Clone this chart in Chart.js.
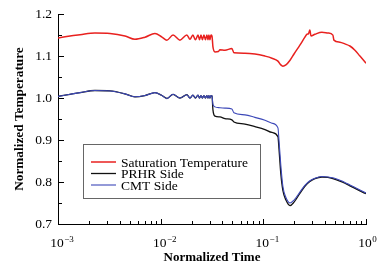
<!DOCTYPE html>
<html>
<head>
<meta charset="utf-8">
<script src="https://cdn.jsdelivr.net/npm/chart.js@4/dist/chart.umd.min.js"></script>
<style>
  html, body { margin: 0; padding: 0; background: #fff; }
  canvas { display: block; }
</style>
</head>
<body>
<canvas id="temp-chart" width="390" height="269"></canvas>
<script>
// values
const satTime = [0.001, 0.00131, 0.00164, 0.00229, 0.00321, 0.00449, 0.00562, 0.00703, 0.0088, 0.0103,
  0.0115, 0.0132, 0.0154, 0.018, 0.0193, 0.0206, 0.0218, 0.0231, 0.0239, 0.0247,
  0.0255, 0.0264, 0.0273, 0.0282, 0.0289, 0.0295, 0.0302, 0.0309, 0.0316, 0.0323,
  0.0338, 0.0365, 0.0378, 0.0423, 0.0494, 0.0517, 0.0662, 0.0828, 0.1037, 0.1213,
  0.1388, 0.148, 0.155, 0.166, 0.182, 0.199, 0.227, 0.254, 0.266, 0.275,
  0.284, 0.291, 0.318, 0.372, 0.426, 0.476, 0.487, 0.557, 0.623, 0.697,
  0.78, 0.873, 1.0];
const satTemp = [1.143, 1.148, 1.151, 1.155, 1.154, 1.148, 1.140, 1.145, 1.154, 1.145,
  1.138, 1.150, 1.138, 1.150, 1.140, 1.150, 1.139, 1.150, 1.139, 1.150,
  1.139, 1.150, 1.139, 1.150, 1.139, 1.150, 1.139, 1.150, 1.148, 1.122,
  1.110, 1.111, 1.115, 1.114, 1.118, 1.108, 1.107, 1.105, 1.100, 1.095,
  1.088, 1.079, 1.076, 1.079, 1.090, 1.105, 1.126, 1.145, 1.152, 1.153,
  1.162, 1.148, 1.152, 1.157, 1.155, 1.150, 1.138, 1.133, 1.129, 1.124,
  1.114, 1.100, 1.083];

const sideTime = [0.001, 0.00131, 0.00164, 0.00229, 0.00321, 0.00449, 0.00562, 0.00703, 0.0088, 0.0103,
  0.0115, 0.0132, 0.0154, 0.018, 0.0193, 0.0206, 0.0218, 0.0231, 0.0239, 0.0247,
  0.0255, 0.0264, 0.0273, 0.0282, 0.0289, 0.0295, 0.0302, 0.0309, 0.0316, 0.0323,
  0.0338, 0.0378, 0.0423, 0.0494, 0.0517, 0.0662, 0.0828, 0.1037, 0.1213, 0.1388,
  0.142, 0.148, 0.155, 0.166, 0.182, 0.199, 0.227, 0.254, 0.284, 0.318,
  0.372, 0.426, 0.476, 0.557, 0.623, 0.697, 0.78, 0.873, 1.0];
const prhrTemp = [1.004, 1.009, 1.013, 1.018, 1.017, 1.010, 1.003, 1.006, 1.013, 1.006,
  0.999, 1.009, 1.000, 1.008, 1.000, 1.007, 1.000, 1.007, 1.000, 1.006,
  1.000, 1.006, 1.000, 1.006, 1.000, 1.006, 1.000, 1.006, 1.005, 0.972,
  0.957, 0.955, 0.951, 0.948, 0.943, 0.938, 0.932, 0.925, 0.918, 0.908,
  0.88, 0.82, 0.78, 0.757, 0.744, 0.752, 0.773, 0.790, 0.801, 0.808,
  0.812, 0.811, 0.808, 0.802, 0.797, 0.791, 0.785, 0.779, 0.772];
const cmtTemp = [1.004, 1.009, 1.013, 1.018, 1.017, 1.010, 1.003, 1.006, 1.013, 1.006,
  0.999, 1.009, 1.000, 1.008, 1.000, 1.007, 1.000, 1.007, 1.000, 1.006,
  1.000, 1.006, 1.000, 1.006, 1.000, 1.006, 1.000, 1.006, 1.005, 0.985,
  0.979, 0.977, 0.976, 0.974, 0.965, 0.960, 0.954, 0.947, 0.940, 0.929,
  0.90, 0.84, 0.79, 0.763, 0.750, 0.757, 0.776, 0.792, 0.803, 0.809,
  0.813, 0.812, 0.810, 0.804, 0.799, 0.793, 0.787, 0.781, 0.774];

const seriesNames = ['Saturation Temperature', 'PRHR Side', 'CMT Side'];
const xTickValues = [0.001, 0.01, 0.1, 1];
const xTickExponents = ['\u22123', '\u22122', '\u22121', '0'];
const yTickValues = [0.7, 0.8, 0.9, 1.0, 1.1, 1.2];

const SERIF = '"Liberation Serif", "Times New Roman", serif';

function pairs(xs, ys) {
    return xs.map((x, i) => ({x: x, y: ys[i]}));
}

// inward ticks, x labels with superscripts, boxed legend
const decorPlugin = {
    id: 'decor',
    afterDraw(chart) {
        const ctx = chart.ctx;
        const xs = chart.scales.x;
        const ys = chart.scales.y;
        const area = chart.chartArea;
        ctx.save();
        ctx.strokeStyle = '#000';
        ctx.lineWidth = 1;

        // x ticks
        ctx.beginPath();
        for (let d = -3; d <= 0; d++) {
            const base = Math.pow(10, d);
            const px = Math.round(xs.getPixelForValue(base)) + 0.5;
            ctx.moveTo(px, area.bottom);
            ctx.lineTo(px, area.bottom - 5);
            if (d < 0) {
                for (let k = 2; k <= 9; k++) {
                    const mx = Math.round(xs.getPixelForValue(k * base)) + 0.5;
                    ctx.moveTo(mx, area.bottom);
                    ctx.lineTo(mx, area.bottom - 3);
                }
            }
        }
        // y ticks
        yTickValues.forEach((v, i) => {
            const py = Math.round(ys.getPixelForValue(v)) + 0.5;
            ctx.moveTo(area.left, py);
            ctx.lineTo(area.left + 6, py);
            if (i < yTickValues.length - 1) {
                const my = Math.round(ys.getPixelForValue(v + 0.05)) + 0.5;
                ctx.moveTo(area.left, my);
                ctx.lineTo(area.left + 4, my);
            }
        });
        ctx.stroke();

        // x tick labels 10^n
        ctx.fillStyle = '#000';
        ctx.textBaseline = 'alphabetic';
        xTickValues.forEach((v, i) => {
            const px = xs.getPixelForValue(v);
            ctx.font = '13.5px ' + SERIF;
            const w = ctx.measureText('10').width;
            const left = px - w / 2 - 1;
            ctx.textAlign = 'left';
            ctx.fillText('10', left, 247);
            ctx.font = '9px ' + SERIF;
            ctx.fillText(xTickExponents[i], left + w + 0.5, 241.5);
        });

        // legend
        const box = {x: 83.5, y: 144.5, w: 177, h: 54};
        ctx.strokeStyle = '#666';
        ctx.strokeRect(box.x, box.y, box.w, box.h);
        ctx.font = '13.5px ' + SERIF;
        ctx.textAlign = 'left';
        const rows = [162, 173.5, 185];
        chart.data.datasets.forEach((ds, i) => {
            const y = rows[i];
            ctx.strokeStyle = ds.borderColor;
            ctx.lineWidth = ds.borderWidth;
            ctx.beginPath();
            ctx.moveTo(91, y);
            ctx.lineTo(116, y);
            ctx.stroke();
            ctx.fillStyle = '#000';
            ctx.fillText(ds.label, 121, y + 4.5);
        });
        ctx.restore();
    }
};

const lineStyle = {
    pointRadius: 0,
    fill: false,
    cubicInterpolationMode: 'monotone',
};

new Chart(document.getElementById('temp-chart').getContext('2d'), {
    type: 'line',
    data: {
        datasets: [
            Object.assign({
                label: seriesNames[0],
                data: pairs(satTime, satTemp),
                borderColor: '#e8211f',
                borderWidth: 1.5,
                order: 2,
            }, lineStyle),
            Object.assign({
                label: seriesNames[1],
                data: pairs(sideTime, prhrTemp),
                borderColor: '#111111',
                borderWidth: 1.3,
                order: 1,
            }, lineStyle),
            Object.assign({
                label: seriesNames[2],
                data: pairs(sideTime, cmtTemp),
                borderColor: '#3c48b8',
                borderWidth: 1.1,
                order: 0,
            }, lineStyle),
        ]
    },
    options: {
        responsive: false,
        animation: false,
        devicePixelRatio: 1,
        layout: { padding: { top: 14, right: 24, left: 0, bottom: 0 } },
        plugins: {
            legend: { display: false },
            tooltip: { enabled: false },
        },
        scales: {
            x: {
                type: 'logarithmic',
                min: 0.001,
                max: 1,
                grid: { display: false, drawTicks: false },
                border: { display: true, color: '#000', width: 1 },
                ticks: { display: false },
                title: {
                    display: true,
                    text: 'Normalized Time',
                    color: '#000',
                    font: { family: SERIF, size: 13, weight: 'bold' },
                    padding: { top: 0, bottom: 4 },
                },
                afterFit: s => { s.height = 45; },
            },
            y: {
                type: 'linear',
                min: 0.7,
                max: 1.2,
                grid: { display: false, drawTicks: false },
                border: { display: true, color: '#000', width: 1 },
                ticks: {
                    stepSize: 0.1,
                    padding: 6,
                    color: '#000',
                    font: { family: SERIF, size: 13.5 },
                    callback: v => Number(v).toFixed(1),
                },
                title: {
                    display: true,
                    text: 'Normalized Temperature',
                    color: '#000',
                    font: { family: SERIF, size: 13.3, weight: 'bold' },
                    padding: { top: 12, bottom: 0 },
                },
                afterFit: s => { s.width = 58; },
            }
        }
    },
    plugins: [decorPlugin]
});
</script>
</body>
</html>
